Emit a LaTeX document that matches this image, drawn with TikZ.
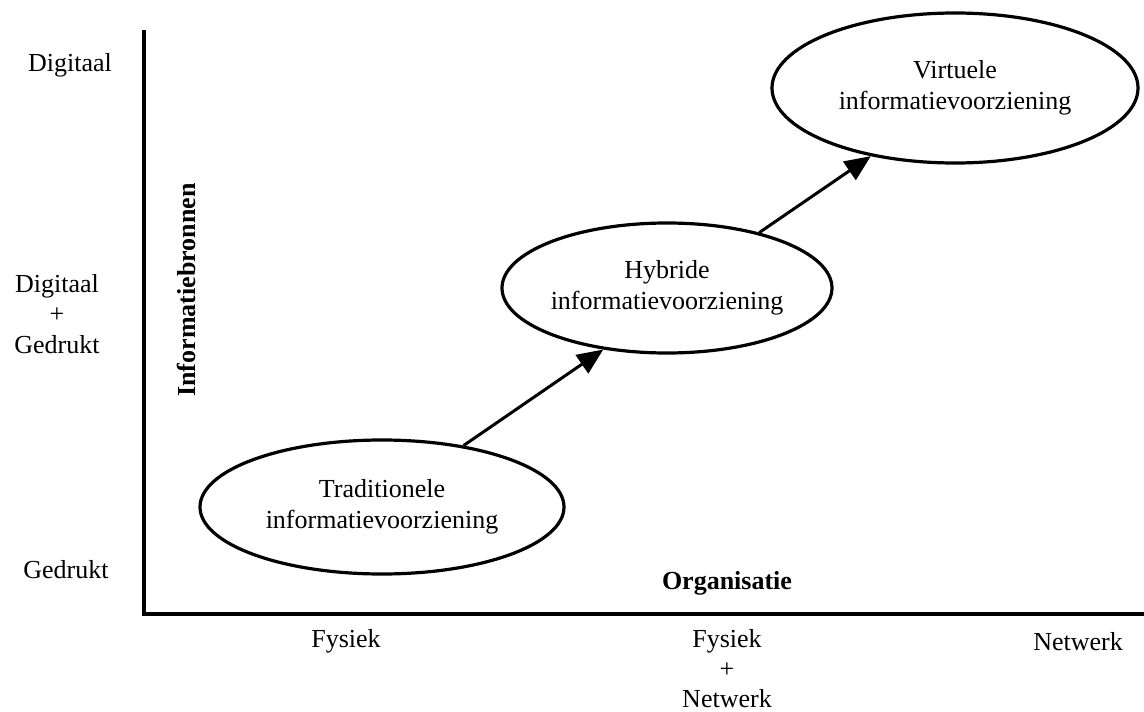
\documentclass[tikz,border=0pt]{standalone}
\usepackage{fontspec}
\setmainfont{Liberation Serif}
\usetikzlibrary{shapes.geometric,arrows.meta}

\tikzset{
  stage/.style={ellipse,draw,line width=3.2pt,inner sep=0pt,align=center},
  axislabel/.style={align=center},
  flow/.style={-{Triangle[length=26pt,width=22pt]},line width=3pt},
}

\begin{document}
\begin{tikzpicture}[x=1pt,y=-1pt,font=\fontsize{26}{30.5}\selectfont]
\useasboundingbox (0,0) rectangle (1144,712);
% axes
\coordinate (top) at (144,30);
\coordinate (origin) at (144,614);
\coordinate (right) at (1144,614);
\draw [line width=4pt] (top) -- (origin) -- (right);
% labels on the vertical axis
\node [axislabel] (dig) at (70,65) {Digitaal};
\node [axislabel] (mix) at (57,314) {Digitaal\\+\\Gedrukt};
\node [axislabel] (ged) at (66,570) {Gedrukt};
\node [rotate=90,font=\fontsize{26}{30.5}\selectfont\bfseries] (bron) at (186,290) {Informatiebronnen};
% labels on the horizontal axis
\node [font=\fontsize{26}{30.5}\selectfont\bfseries] (org) at (727,583) {Organisatie};
\node [axislabel] (fys) at (346,641) {Fysiek};
\node [axislabel,font=\fontsize{26}{30}\selectfont,inner sep=1pt] (fysnet) at (727,669) {Fysiek\\+\\Netwerk};
\node [axislabel] (net) at (1078,642) {Netwerk};
% stages
\node [stage,minimum width=364pt,minimum height=134pt] (trad) at (382,507) {Traditionele\\informatievoorziening};
\node [stage,minimum width=330pt,minimum height=130pt] (hyb) at (667,288) {Hybride\\informatievoorziening};
\node [stage,minimum width=366pt,minimum height=150pt] (virt) at (955,88) {Virtuele\\informatievoorziening};
\draw [flow] (trad.37) -- (hyb.224);
\draw [flow] (hyb.31) -- (virt.219);
\end{tikzpicture}
\end{document}
